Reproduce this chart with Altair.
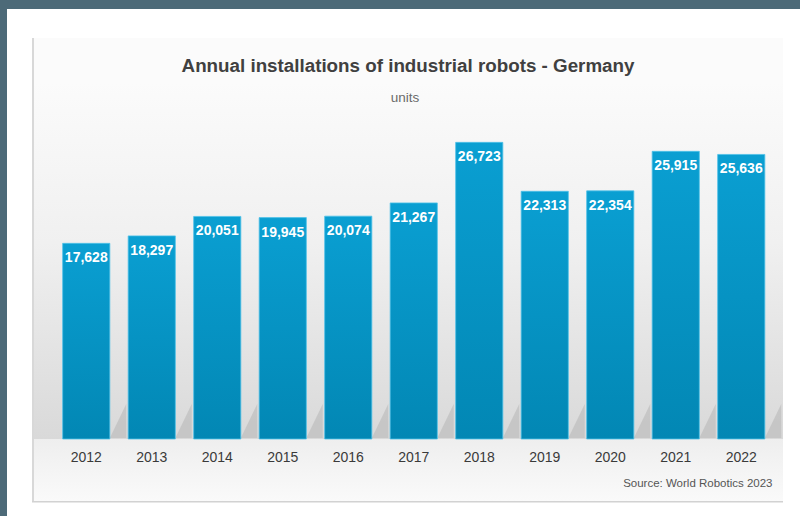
import altair as alt
import pandas as pd

years = ["2012", "2013", "2014", "2015", "2016", "2017", "2018", "2019", "2020", "2021", "2022"]
units = [17628, 18297, 20051, 19945, 20074, 21267, 26723, 22313, 22354, 25915, 25636]
title_text = "Annual installations of industrial robots - Germany"
subtitle_text = "units"
source_text = "Source: World Robotics 2023"

FONT = "Liberation Sans"

df = pd.DataFrame({"year": years, "units": units})
one = pd.DataFrame({"k": [0]})

xs = alt.X("year:N", sort=years, axis=None,
           scale=alt.Scale(range=[53.5, 774], paddingInner=0.28, paddingOuter=0.14))
ys = alt.Y("units:Q", axis=None, scale=alt.Scale(domain=[0, 30000], range=[439, 106]))


def grad(stops):
    return alt.Gradient(gradient="linear", x1=0, x2=0, y1=0, y2=1,
                        stops=[alt.GradientStop(color=c, offset=o) for o, c in stops])


def box(x1, x2, y1, y2, **kw):
    return alt.Chart(one).mark_rect(**kw).encode(
        x=alt.value(x1), x2=alt.value(x2), y=alt.value(y1), y2=alt.value(y2))


frame_top = box(0, 800, 0, 9, color="#4d6a78")
frame_left = box(0, 7, 0, 516, color="#4d6a78")
panel = box(32, 783, 38, 502, fill="#fbfbfb")
plot_bg = box(33, 783, 82, 439, fill=grad([(0, "#fbfbfb"), (0.45, "#f0f0f0"), (1, "#d9d9d9")]))
foot_bg = box(33, 783, 439, 501, fill=grad([(0, "#eeeeee"), (1, "#fafafa")]))
left_line = box(32, 34, 38, 502, color="#d8d8d8")
bottom_line = box(32, 783, 501, 502.5, color="#d2d2d2")

# soft diagonal floor shadow to the right of each bar (path in pixels, size=4 -> scale 1)
shadows = alt.Chart(df).mark_point(
    shape="M 23.6 0 L 40 0 L 40 -34 Z",
    size=4, filled=True, fill="#bdbdbd", fillOpacity=0.7, strokeWidth=0,
).encode(x=xs, y=alt.value(438))

bars = alt.Chart(df).mark_bar(
    fill=grad([(0, "#0a9fd2"), (1, "#0287b4")]),
    stroke="#4fc2e8", strokeWidth=0.8,
).encode(x=xs, y=ys)

labels = alt.Chart(df).mark_text(
    font=FONT, fontSize=14, fontWeight="bold", color="white",
    baseline="alphabetic", align="center", dy=19,
).encode(x=xs, y=ys, text=alt.Text("units:Q", format=","))

year_labels = alt.Chart(df).mark_text(
    font=FONT, fontSize=14, color="#3a3a3a", baseline="alphabetic", align="center",
).encode(x=xs, y=alt.value(461.5), text="year:N")

title = alt.Chart(one).mark_text(
    font=FONT, fontSize=18.8, fontWeight="bold", color="#404040",
    baseline="alphabetic", align="center",
).encode(x=alt.value(408), y=alt.value(72), text=alt.value(title_text))

subtitle = alt.Chart(one).mark_text(
    font=FONT, fontSize=13.5, color="#6a6a6a", baseline="alphabetic", align="center",
).encode(x=alt.value(405), y=alt.value(102), text=alt.value(subtitle_text))

source = alt.Chart(one).mark_text(
    font=FONT, fontSize=11.5, color="#555555", baseline="alphabetic", align="right",
).encode(x=alt.value(772.5), y=alt.value(486.5), text=alt.value(source_text))

chart = alt.layer(
    frame_top, frame_left, panel, plot_bg, foot_bg, left_line, bottom_line,
    shadows, bars, labels, year_labels, title, subtitle, source,
).properties(
    width=800, height=516,
    autosize=alt.AutoSizeParams(type="none"),
    padding=0,
    background="white",
).configure_view(stroke=None)

chart.save("out.html", embed_options={"renderer": "svg", "actions": False})
